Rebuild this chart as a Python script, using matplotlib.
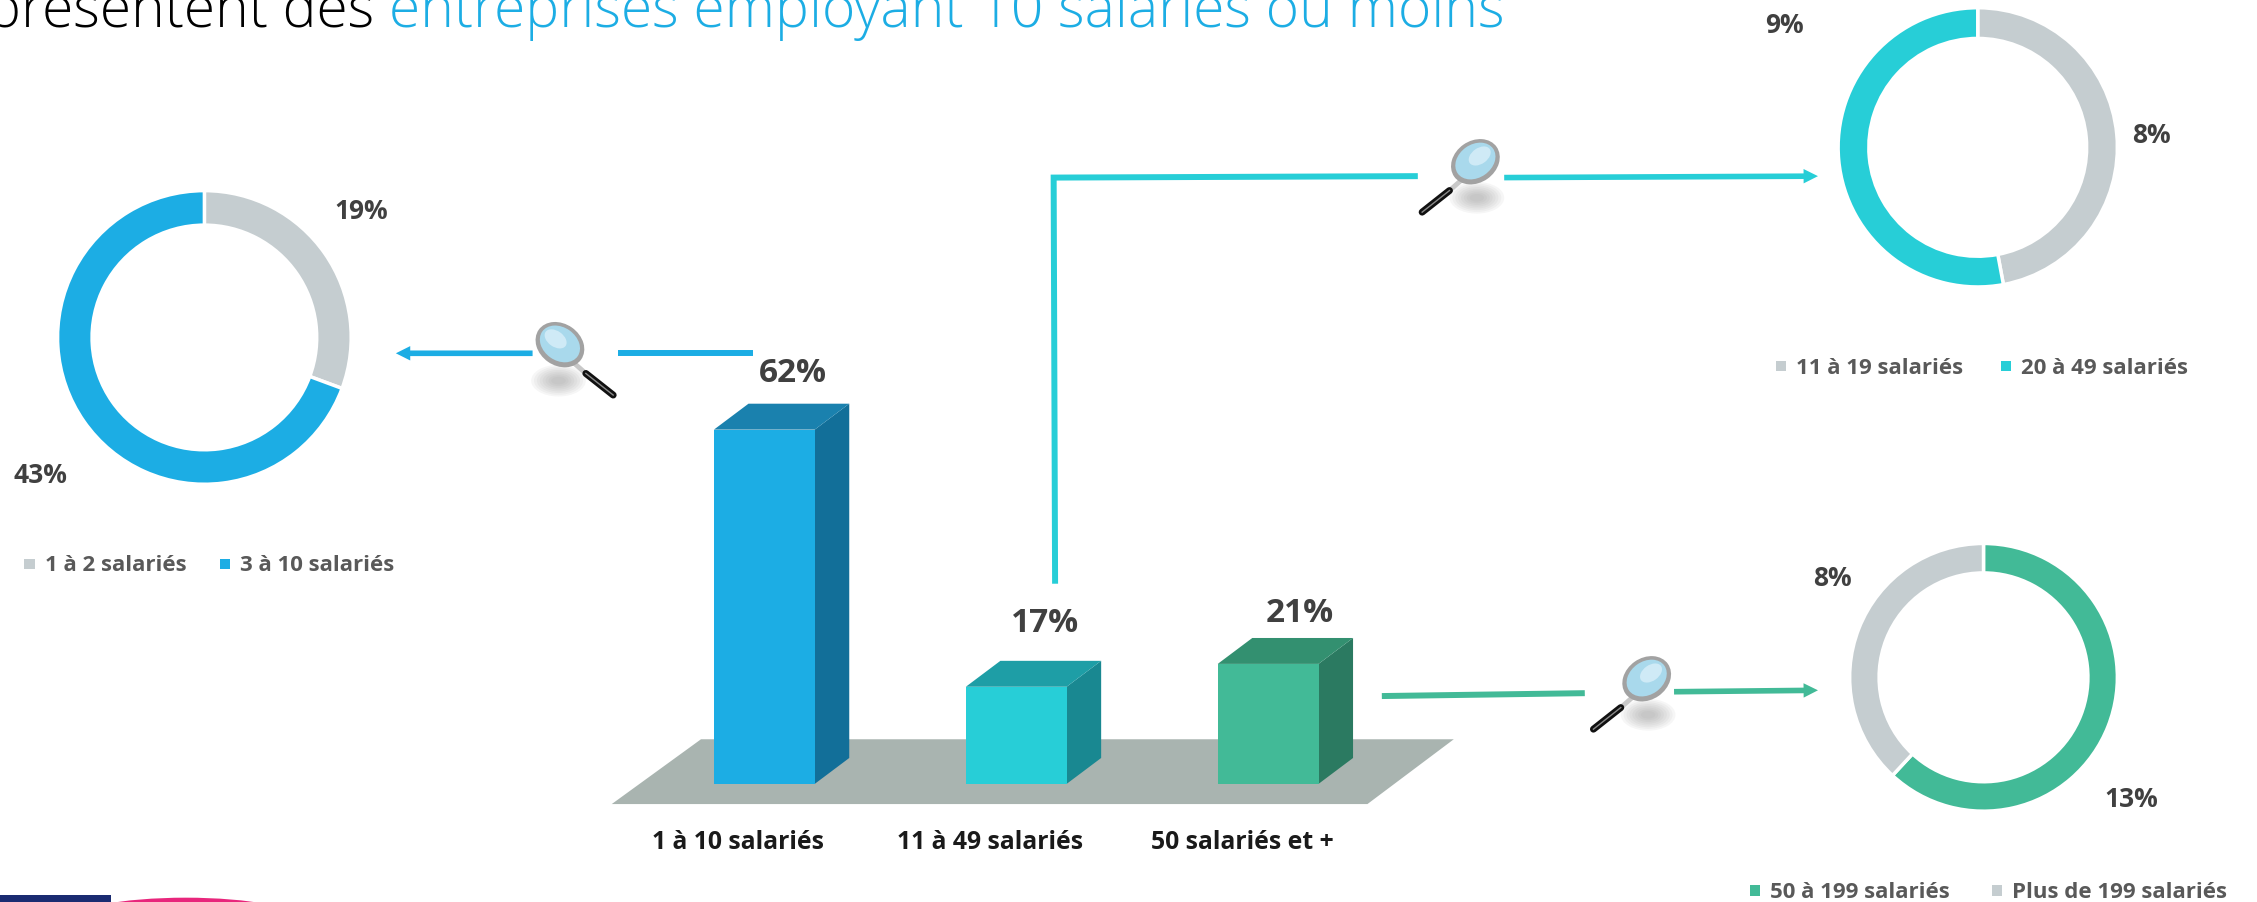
import matplotlib
matplotlib.use('Agg')
from matplotlib import pyplot as plt
from matplotlib.patches import Polygon, Ellipse, Rectangle, FancyArrow
import numpy as np

# Main bars
bar_labels = ['1 à 10 salariés', '11 à 49 salariés', '50 salariés et +']
bar_values = [62, 17, 21]
bar_value_text = ['62%', '17%', '21%']

# Donuts
left_names = ['1 à 2 salariés', '3 à 10 salariés']
left_values = [19, 43]
top_names = ['11 à 19 salariés', '20 à 49 salariés']
top_values = [8, 9]
bottom_names = ['50 à 199 salariés', 'Plus de 199 salariés']
bottom_values = [13, 8]

BLUE = '#1CADE4'
TEAL = '#27CED7'
GREEN = '#42BA97'
GREY = '#C5CDD0'
TXT = '#404040'
FONT = 'Open Sans'
SHOWN_W, SHOWN_H = 1568, 627

fig = plt.figure(figsize=(22.57, 9.03), dpi=100, facecolor='white')

# overlay in view coordinates, for floor, arrows and text
ov = fig.add_axes([0, 0, 1, 1])
ov.set_xlim(0, SHOWN_W)
ov.set_ylim(SHOWN_H, 0)
ov.axis('off')


def box(x0, y0, x1, y1):
    return [x0 / SHOWN_W, 1 - y1 / SHOWN_H, (x1 - x0) / SHOWN_W, (y1 - y0) / SHOWN_H]


def donut(cx, cy, r, values, colors, ring):
    ax = fig.add_axes(box(cx - r, cy - r, cx + r, cy + r))
    ax.pie(values, colors=colors, startangle=90, counterclock=False, radius=1,
           wedgeprops=dict(width=ring, edgecolor='white', linewidth=2.5))
    ax.set_xlim(-1, 1)
    ax.set_ylim(-1, 1)
    ax.axis('off')


def legend(items, y):
    for x, name, col in items:
        ov.add_patch(Rectangle((x - 14, y - 3.5), 7, 7, color=col, lw=0))
        ov.text(x, y + 1, name, fontsize=16, fontweight='bold', color='#595959',
                family=FONT, va='center', ha='left')


def magnifier(cx, cy, flip):
    # flip=1 handle to lower right, flip=-1 handle to lower left
    sy = cy + 25
    for k in range(8):
        ov.add_patch(Ellipse((cx - flip, sy), 38 - k * 4, 22 - k * 2.4,
                             color='#909090', alpha=0.08, lw=0, zorder=3))
    x0, y0 = cx + flip * 10, cy + 13
    x1, y1 = cx + flip * 18, cy + 20
    x2, y2 = cx + flip * 37, cy + 35
    ov.plot([x0, x1], [y0, y1], color='#C8C8C8', lw=3.5, zorder=4, solid_capstyle='butt')
    ov.plot([x1, x2], [y1, y2], color='#111111', lw=5, zorder=4, solid_capstyle='round')
    ov.plot([x1, x2], [y1, y2], color='#8A8A8A', lw=1, zorder=4)
    angle = 35 * flip
    ov.add_patch(Ellipse((cx, cy), 36, 29, angle=angle, color='#A2A2A2', lw=0, zorder=5))
    ov.add_patch(Ellipse((cx, cy - 0.5), 30, 23, angle=angle, color='#A9D9EC', lw=0, zorder=6))
    ov.add_patch(Ellipse((cx - flip * -3 * -1, cy - 4), 17, 11, angle=angle, color='#CFEAF6', lw=0, zorder=7))


def line_arrow(x0, y0, x1, y1, col):
    ov.add_patch(FancyArrow(x0, y0, x1 - x0, y1 - y0, width=3.9, head_width=10,
                            head_length=10, length_includes_head=True, color=col, lw=0))


# floor under the bars
ov.add_patch(Polygon([(425, 559), (487, 514), (1010, 514), (950, 559)], color='#A9B4B0', lw=0))

# bars, drawn on their own axes: baseline at view y=545, 62% reaches y=299
bx0, bx1 = 400, 1000
by_top, by_base = 100, 545
ax = fig.add_axes(box(bx0, by_top, bx1, by_base))
px_per_unit = (545 - 299) / 62
spacing = 175
ax.set_xlim((bx0 - 531) / spacing, (bx1 - 531) / spacing)
ax.set_ylim(0, (by_base - by_top) / px_per_unit)
ax.axis('off')
fronts = [BLUE, TEAL, GREEN]
sides = ['#126F99', '#198891', '#2B7A61']
tops = ['#1A81AE', '#1E9EA6', '#339070']
bar_w = 70 / spacing
dx = 24 / spacing
dy = 18 / px_per_unit
xpos = np.arange(len(bar_values))
ax.bar(xpos, bar_values, width=bar_w, color=fronts, linewidth=0, zorder=3)
for x, v, side, top in zip(xpos, bar_values, sides, tops):
    r = x + bar_w / 2
    l = x - bar_w / 2
    ax.add_patch(Polygon([(r, 0), (r + dx, dy), (r + dx, v + dy), (r, v)], color=side, lw=0, zorder=2))
    ax.add_patch(Polygon([(l, v), (l + dx, v + dy), (r + dx, v + dy), (r, v)], color=top, lw=0, zorder=2))

for name, x in zip(bar_labels, [513, 688, 863]):
    ov.text(x, 585, name, fontsize=17.8, fontweight='bold', color='#1A1A1A',
            family=FONT, ha='center', va='center')
for txt, x, y in zip(bar_value_text, [551, 726, 903], [259, 433, 426]):
    ov.text(x, y, txt, fontsize=24, fontweight='bold', color=TXT, family=FONT,
            ha='center', va='center')

# donuts
donut(142, 235, 102, left_values, [GREY, BLUE], 0.235)
donut(1374, 103, 97, top_values, [GREY, TEAL], 0.22)
donut(1378, 471, 93, bottom_values, [GREEN, GREY], 0.22)

for txt, x, y in [('19%', 251, 147), ('43%', 28, 330), ('9%', 1240, 18),
                  ('8%', 1495, 94), ('8%', 1273, 402), ('13%', 1481, 555)]:
    ov.text(x, y, txt, fontsize=19, fontweight='bold', color=TXT, family=FONT,
            ha='center', va='center')

legend([(31, left_names[0], GREY), (167, left_names[1], BLUE)], 392)
legend([(1248, top_names[0], GREY), (1404, top_names[1], TEAL)], 255)
legend([(1230, bottom_names[0], GREEN), (1398, bottom_names[1], GREY)], 619)

# connectors
ov.plot([523, 429], [246, 246], color=BLUE, lw=4.3, solid_capstyle='butt')
line_arrow(370, 246, 275, 246, BLUE)
ov.plot([733, 732, 985], [406, 124, 123], color=TEAL, lw=4.3, solid_capstyle='butt',
        solid_joinstyle='miter')
line_arrow(1045, 124, 1263, 123, TEAL)
ov.plot([960, 1101], [484, 482], color=GREEN, lw=4.3, solid_capstyle='butt')
line_arrow(1163, 481, 1263, 480, GREEN)

magnifier(389, 240, 1)
magnifier(1025, 113, -1)
magnifier(1144, 472, -1)

# title, cut off by the top edge like the source slide
t = ov.text(-9, 19, 'présentent des ', fontsize=41, color='black', family='Open Sans',
            fontweight='light', ha='left', va='baseline', clip_on=False)
fig.canvas.draw()
bb = t.get_window_extent()
end = ov.transData.inverted().transform((bb.x1, bb.y0))[0]
ov.text(end, 19, 'entreprises employant 10 salariés ou moins', fontsize=41, color=BLUE,
        family='Open Sans', fontweight='light', ha='left', va='baseline')

# logo slivers at the bottom edge
ov.add_patch(Rectangle((0, 622), 77, 8, color='#1A2B71', lw=0))
ov.add_patch(Ellipse((129, 640), 163, 32, color='#E8267C', lw=0))

fig.savefig('out.png', dpi=100)
